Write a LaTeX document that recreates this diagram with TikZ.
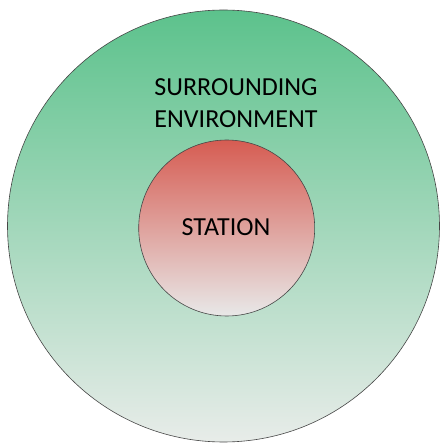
\documentclass[tikz,border=0pt]{standalone}
\usepackage{fontspec}
\setmainfont{Carlito}
\definecolor{outertop}{RGB}{92,194,140}
\definecolor{outerbot}{RGB}{232,236,233}
\definecolor{innertop}{RGB}{214,92,82}
\definecolor{innerbot}{RGB}{232,232,232}
\definecolor{edge}{RGB}{70,70,70}
\tikzset{
  lbl/.style={font=\fontsize{26}{32}\selectfont, text=black, align=center, inner sep=0pt},
  ring/.style={draw=edge, line width=0.6pt}
}
\begin{document}
\begin{tikzpicture}[x=1pt,y=1pt]
\useasboundingbox (0,0) rectangle (441,445);
\fill[white] (0,0) rectangle (441,445);
\shade[top color=outertop, bottom color=outerbot] (223.5,219) circle (216);
\draw[ring] (223.5,219) circle (216);
\shade[top color=innertop, bottom color=innerbot] (226.7,217) circle (88);
\draw[ring] (226.7,217) circle (88);
\node[lbl] (env) at (236,342) {SURROUNDING\\ENVIRONMENT};
\node[lbl] (st) at (226,218) {STATION};
\end{tikzpicture}
\end{document}
